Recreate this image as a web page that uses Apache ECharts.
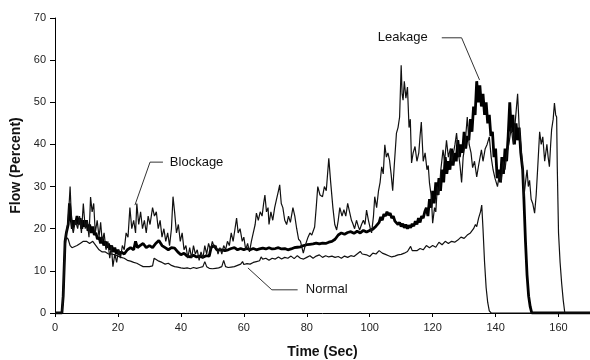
<!DOCTYPE html>
<html><head><meta charset="utf-8">
<script src="https://cdn.jsdelivr.net/npm/echarts@6/dist/echarts.min.js"></script>
<style>html,body{margin:0;padding:0;background:#fff}#c{width:590px;height:360px}</style>
</head><body><div id="c"></div>
<script>
const xTicks = [0, 20, 40, 60, 80, 100, 120, 140, 160];
const yTicks = [0, 10, 20, 30, 40, 50, 60, 70];

const normal = [[0,0],[2.2,0],[2.6,4],[3.2,16],[3.6,18],[4.2,17.5],[4.8,16],[5.4,15.5],[6,15.5],[7,16],[8,16.5],[9,17],[10,17],[11,16.5],[12,17],[13,16],[14,15],[15,14.5],[16,14.5],[17,14],[18,14],[19,13.8],[20,13.5],[21,13.2],[22,13],[23,12.5],[24,12.3],[25,12],[26,11.8],[27,11.4],[28,11],[29,11],[30,11],[31,11.2],[31.5,13],[32,12.6],[33,12.3],[34,12],[35,11.6],[36,11.8],[37,11.3],[38,11],[39,10.9],[40,10.7],[41,10.6],[42,10.7],[43,10.5],[44,10.8],[45,10.6],[46,10.8],[47,11],[47.6,12.2],[48.2,11],[49,10.6],[50,10.5],[51,10.6],[52,10.7],[53,11],[53.6,12.5],[54.2,11],[55,10.8],[56,10.9],[57,11],[58,11.3],[59,11.6],[59.6,12.2],[60,11.5],[61,11.7],[62,11.6],[63,12],[64,12.2],[65,12.4],[65.5,13.3],[66,12.8],[67,13],[68,12.5],[69,13],[70,12.8],[71,13.3],[72,12.8],[73,13.2],[74,13],[75,13.5],[76,12.9],[77,13.6],[78,13],[79,12.8],[80,13.2],[81,13.6],[82,13],[83,13.5],[84,13.8],[85,13.2],[86,13.6],[87,13.3],[88,13.5],[89,13.2],[90,13.4],[91,13],[92,13.5],[93,13.2],[94,13.6],[95,13.4],[96,14],[97,14.6],[97.6,14],[98,13.6],[99,13.8],[100,13.4],[101,14.2],[102,14],[103,14.8],[104,14.2],[105,13.9],[106,13.6],[107,13.3],[108,13.5],[109,13.8],[110,13.9],[111,14.2],[112,14.6],[113,15.8],[113.5,14.8],[114,15],[115,14.8],[116,15.3],[117,15],[118,16],[119,15.5],[120,16],[121,15.6],[122,16.8],[123,16.2],[124,17],[125,16.5],[126,17],[127,16.8],[128,17.3],[129,18],[130,17.7],[131,18.5],[132,19],[133,20],[133.6,21],[134,20.5],[134.6,22.5],[135.2,24],[135.6,25.6],[136,20],[136.5,12],[137,6],[137.5,2.5],[138,0.5],[138.6,0],[170,0]];

const blockage = [[0,0],[2.2,0],[2.6,4],[3.2,17],[3.6,19],[4.2,22],[4.8,30],[5.3,21],[5.8,19],[6.5,22],[7.2,20],[7.8,23],[8.4,19],[9,26],[9.6,20],[10.2,22],[10.8,18],[11.3,27.5],[11.8,24],[12.3,26],[12.8,19],[13.4,22],[14,18],[14.5,21.5],[15,17],[15.6,19],[16.2,15],[16.8,17],[17.4,13],[17.9,16],[18.4,11],[19,14],[19.6,12],[20.2,15],[20.8,13],[21.4,16],[22,15],[22.6,19],[23.2,18],[23.8,25],[24.4,20],[25,22],[25.6,19],[26,26],[26.6,21],[27.2,24],[27.8,20],[28.4,22],[29,19],[29.6,23],[30.2,21],[31,25],[31.6,23],[32.2,24],[32.8,20],[33.4,22],[34,18],[34.6,20],[35.2,17],[35.8,19],[36.4,16],[37,20],[37.5,27.6],[38,24],[38.6,19],[39.2,21],[39.8,17],[40.4,19],[41,15],[41.6,16],[42.2,13],[42.8,15.5],[43.4,13],[44,16],[44.6,14],[45.2,15],[45.8,12.5],[46.4,14.5],[47,13],[47.6,16],[48.2,14],[48.8,16.5],[49.4,15],[50,17],[50.6,15.5],[51.2,16],[51.8,14],[52.4,15.5],[53,14],[53.6,16],[54.2,15],[54.8,17],[55.4,16],[56,19],[56.6,17],[57.2,20],[57.7,22.5],[58.2,19],[58.8,20],[59.5,17],[60,18],[60.6,15],[61.2,16.5],[61.8,14.5],[62.4,17],[63,19],[63.6,21],[64,23.7],[64.6,22],[65.2,24],[65.8,23],[66.3,26],[66.7,28],[67.2,24],[67.7,25],[68,21],[68.6,24],[69.2,22],[69.8,25],[70.4,27],[71,29],[71.4,30.4],[71.9,26],[72.4,25],[73,22],[73.6,21],[74.2,23],[74.8,21.5],[75.6,25],[76.2,23],[76.8,20],[77.4,17.5],[78,17],[78.9,14.2],[79.5,16],[80.4,18],[81,19],[81.6,18.5],[82.5,20.4],[83,25],[83.5,30],[84.2,28],[85,27.6],[85.6,30],[86.2,29],[87,36.7],[87.6,31],[88.3,25],[88.9,21],[89.5,19.7],[90,22],[90.5,25],[91.2,23],[91.8,24.5],[92.4,23],[93,26],[93.6,24],[94.2,22],[94.6,21.3],[95.2,20],[95.8,22],[96.4,20.5],[96.8,19.7],[97.4,21],[98,22],[98.5,21],[99,24.4],[99.6,22],[100.2,20],[100.6,19],[101.2,23],[101.6,27.6],[102.2,25],[102.8,29],[103.3,31],[103.8,34.7],[104.3,33],[104.8,39.9],[105.3,37],[105.8,38],[106.3,36.3],[106.8,33],[107.3,29],[107.8,35],[108.5,42.7],[109,44],[109.5,46.5],[110,58.8],[110.3,52],[110.6,50.5],[111,55],[111.5,51],[112,53.6],[112.5,44],[112.9,46],[113.3,35.6],[113.8,38],[114.4,39.5],[115,36],[115.6,38],[116,42],[116.4,45.3],[117,36],[117.6,38],[118.2,34],[118.6,35],[119,30.8],[119.6,27.5],[120,21.3],[120.6,25],[121,24],[121.5,30],[122,28],[122.6,34],[123.3,38.7],[123.8,36],[124.4,41],[125,37],[125.6,39],[126.1,36],[126.6,36],[127.1,40],[127.6,42.7],[128.2,38],[128.7,35],[129.2,31],[129.7,37],[130.3,40],[131,46.5],[131.6,40],[132.2,38],[132.7,34.5],[133.3,36],[134,32.3],[134.6,35],[135.5,38.7],[136,36],[136.7,39],[137.3,40],[138,41.8],[138.6,37],[139.2,34],[139.8,32],[140.6,30],[141.2,33],[141.8,31],[142.4,36],[143,34],[143.6,38],[144.2,40],[145,44],[145.6,40],[146.2,45],[147,52],[147.5,44],[148,40],[148.6,34.5],[149,27.6],[149.5,31],[150,34],[150.4,30],[150.8,31.5],[151.3,27],[151.8,26],[152.4,23.7],[152.9,28],[153.4,34.7],[154,43],[154.5,40],[155,41.8],[155.6,36],[156.3,40],[156.7,37],[157.1,34.7],[157.5,40],[157.8,43.5],[158.3,46],[158.7,49.8],[159.1,47],[159.4,46.5],[159.6,34.7],[160,19],[160.5,12],[161,7],[161.5,3],[162,0],[170,0]];

const leakage = [[0,0],[2.2,0],[2.6,4],[3.2,17],[3.6,19],[4.2,21],[4.6,26],[5,23],[5.5,20],[6,22],[6.5,21],[7,23],[7.5,21],[8,22.5],[8.5,20],[9,22],[9.5,20.5],[10,22],[10.5,19.5],[11,21],[11.5,19],[12,20.5],[12.5,18.5],[13,19],[13.5,17.5],[14,18],[14.5,16.5],[15,18],[15.5,16],[16,17],[16.5,15.5],[17,16.5],[17.5,15],[18,16],[18.5,14.5],[19,15.5],[19.5,14],[20,15],[20.5,13.8],[21,14.5],[22,14],[23,15],[24,15.5],[25,15],[25.6,17],[26.2,15.5],[27,16],[28,16.5],[29,15.5],[30,16],[31,15.5],[32,16.5],[33,17.2],[34,16],[35,15.5],[36,15],[37,15.5],[38,15.4],[39,14.5],[40,13.8],[41,14.2],[42,13.5],[43,13.3],[44,13.7],[45,13.3],[46,13.5],[47,13.2],[48,13.6],[49,13.5],[49.6,15.5],[50.5,16],[51.4,15],[52,14.8],[53,15],[54,14.8],[55,15],[56,15.3],[57,15.5],[58,15],[59,15.3],[60,15],[61,15.3],[62,15],[63,15.3],[64,15],[65,15.2],[66,15.4],[67,15.2],[68,15.5],[69,15.2],[70,15.3],[71,15.5],[72,15.2],[73,15.3],[74,15],[75,15.2],[76,15.5],[77,15.6],[78,15.7],[79,16],[80,16.2],[81,16.3],[82,16.4],[83,16.6],[84,16.4],[85,16.6],[86,16.5],[87,16.8],[88,17],[89,17.5],[90,18.5],[91,19],[92,18.7],[93,19.1],[94,19.3],[95,18.9],[96,19.4],[97,19],[98,19.6],[99,19.2],[100,19.6],[101,19.9],[102,20.6],[103,21.5],[103.5,22.8],[104,22],[104.5,23.5],[105,23],[105.5,24],[106,23.2],[106.5,23.7],[107,22.5],[107.5,23],[108,21.8],[108.5,22.2],[109,21],[109.5,21.5],[110,20.5],[110.5,21.2],[111,20.2],[111.5,21],[112,20],[112.5,20.8],[113,20.2],[113.5,21.2],[114,20.6],[114.5,21.8],[115,21],[115.5,22.5],[116,21.5],[116.5,23],[117,22.5],[117.5,24],[118,25],[118.5,23],[119,27],[119.5,25],[120,29],[120.5,26],[121,31],[121.5,28],[122,32],[122.5,29],[123,34],[123.5,31],[124,37],[124.5,33],[125,36],[125.5,34],[126,39],[126.5,35],[127,38],[127.5,36],[128,41],[128.5,37],[129,40],[129.5,38],[130,43],[130.5,39],[131,42],[131.5,41],[132,46],[132.5,43],[133,49],[133.5,47],[134,55],[134.5,50],[135,54],[135.5,49],[136,52],[136.5,47],[137,50],[137.5,45],[138,47],[138.5,42],[139,43],[139.5,37],[140,39],[140.5,32],[141,34],[141.5,31],[142,37],[142.5,33],[143,39],[143.5,36],[144,42],[144.5,50],[145,43],[145.5,47],[146,40],[146.5,45],[147,41],[147.5,44],[148,38],[148.6,34],[149,27],[149.5,17],[150,9],[150.5,4],[151,1.5],[151.5,0],[170,0]];

// annotations in data coordinates: label, text anchor, leader polyline
const annotations = [
  {text: 'Blockage', at: [36.5, 35.8], align: 'left', line: [[34.3, 35.8], [30.2, 35.8], [25.4, 25.6]]},
  {text: 'Leakage', at: [118.4, 65.3], align: 'right', line: [[122.9, 65.3], [129.2, 65.3], [134.9, 55.3]]},
  {text: 'Normal', at: [79.7, 5.5], align: 'left', line: [[61.3, 10.7], [68.9, 5.5], [77.1, 5.5]]}
];

const FONT = '"Liberation Sans", Arial, sans-serif';
const chart = echarts.init(document.getElementById('c'), null, {renderer: 'canvas'});
chart.setOption({
  animation: false,
  backgroundColor: '#fff',
  grid: {left: 55, right: 0, top: 18, bottom: 47, containLabel: false, outerBoundsMode: 'none'},
  xAxis: {
    type: 'value', min: 0, max: 170, interval: 20,
    name: 'Time (Sec)', nameLocation: 'middle', nameGap: 32,
    nameTextStyle: {fontFamily: FONT, fontWeight: 'bold', fontSize: 14, color: '#111'},
    axisLine: {show: true, onZero: false, lineStyle: {color: '#000', width: 1}},
    axisTick: {show: true, length: 4, inside: false, lineStyle: {color: '#000'}},
    axisLabel: {fontFamily: FONT, fontSize: 11, color: '#222', margin: 9,
      formatter: v => xTicks.includes(v) ? String(v) : ''},
    splitLine: {show: false}
  },
  yAxis: {
    type: 'value', min: 0, max: 70, interval: 10,
    name: 'Flow (Percent)', nameLocation: 'middle', nameGap: 29,
    nameTextStyle: {fontFamily: FONT, fontWeight: 'bold', fontSize: 14, color: '#111'},
    axisLine: {show: true, lineStyle: {color: '#000', width: 1}},
    axisTick: {show: true, length: 5, lineStyle: {color: '#000'}},
    axisLabel: {fontFamily: FONT, fontSize: 11, color: '#222', margin: 9,
      formatter: v => yTicks.includes(v) ? String(v) : ''},
    splitLine: {show: false}
  },
  series: [
    {name: 'Normal', type: 'line', data: normal, showSymbol: false, symbol: 'none',
      lineStyle: {color: '#111', width: 1.2}, z: 3},
    {name: 'Leakage', type: 'line', data: leakage, showSymbol: false, symbol: 'none',
      lineStyle: {color: '#000', width: 2.8}, z: 2},
    {name: 'Blockage', type: 'line', data: blockage, showSymbol: false, symbol: 'none',
      lineStyle: {color: '#111', width: 1.2}, z: 4}
  ]
});

const graphics = [];
annotations.forEach(a => {
  const pts = a.line.map(p => chart.convertToPixel({gridIndex: 0}, p));
  graphics.push({type: 'polyline', shape: {points: pts}, style: {stroke: '#333', lineWidth: 1, fill: null}, z: 10});
  const tp = chart.convertToPixel({gridIndex: 0}, a.at);
  graphics.push({type: 'text', x: tp[0], y: tp[1], z: 10,
    style: {text: a.text, font: '13px ' + FONT, fill: '#111', textAlign: a.align, textVerticalAlign: 'middle'}});
});
chart.setOption({graphic: graphics});
</script>
</body></html>
